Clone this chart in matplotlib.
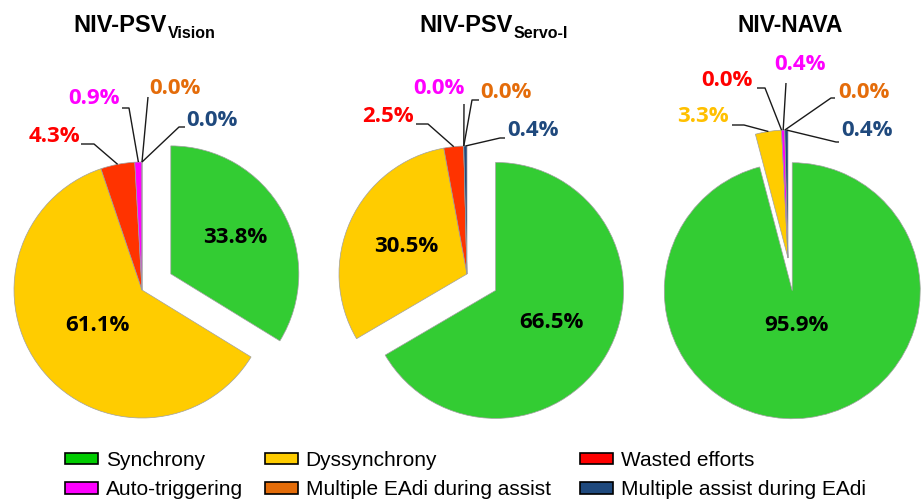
import numpy as np
import matplotlib
matplotlib.use("Agg")
import matplotlib.pyplot as plt
from matplotlib.patches import Patch

# data
categories = ["Synchrony", "Dyssynchrony", "Wasted efforts", "Auto-triggering",
              "Multiple EAdi during assist", "Multiple assist during EAdi"]
vision = [33.8, 61.1, 4.3, 0.9, 0.0, 0.0]
servo = [66.5, 30.5, 2.5, 0.0, 0.0, 0.4]
nava = [95.9, 3.3, 0.0, 0.4, 0.0, 0.4]
titles = [("NIV-PSV", "Vision"), ("NIV-PSV", "Servo-I"), ("NIV-NAVA", "")]

colors = ["#33CC33", "#FFCC00", "#FF3300", "#FF00FF", "#E46C0A", "#1F497D"]
legend_colors = ["#00CC00", "#FFCC00", "#FF0000", "#FF00FF", "#E36C09", "#1F497D"]
label_colors = ["black", "#FFC000", "#FF0000", "#FF00FF", "#E46C0A", "#1F497D"]

W, H = 922, 504
R = 128
EXPL = 33

fig = plt.figure(figsize=(W / 100, H / 100), dpi=100)
ax = fig.add_axes([0, 0, 1, 1])

# layout (screen pixels, y down)
centers = [(142, 290), (467, 274), (788, 258)]
inside = [{0: 0.58, 1: 0.45}, {0: 0.5, 1: 0.52}, {0: 0.27}]
# slice, text x, text y, attach x, elbow x, line y
outside = [
    [(2, 54, 137, 81, 94, 144), (3, 94, 98, 122, 129, 108),
     (4, 175, 88, 148, 148, 97), (5, 212, 120, 185, 179, 127)],
    [(2, 388, 116, 416, 428, 124), (3, 439, 89, 464, 464, 104),
     (4, 506, 92, 479, 472, 100), (5, 533, 130, 505, 500, 138)],
    [(1, 703, 117, 732, 744, 125), (2, 727, 81, 757, 765, 88),
     (3, 800, 65, 786, 786, 83), (4, 864, 92, 835, 831, 98),
     (5, 867, 130, 839, 836, 142)],
]
title_x = [167, 513, 790]

lab_font = dict(family=["Open Sans", "DejaVu Sans"], fontweight="bold", fontsize=16)

for i, vals in enumerate([vision, servo, nava]):
    cx, cy = centers[i]
    wedges, _ = ax.pie(vals, colors=colors, startangle=90, counterclock=False,
                       radius=R, center=(cx, H - cy),
                       explode=[EXPL, 0, 0, 0, 0, 0],
                       wedgeprops=dict(edgecolor="#a0a0a0", linewidth=0.5))

    for k, d in inside[i].items():
        w = wedges[k]
        a = np.deg2rad((w.theta1 + w.theta2) / 2)
        ax.text(w.center[0] + d * R * np.cos(a), w.center[1] + d * R * np.sin(a),
                f"{vals[k]:.1f}%", ha="center", va="center", color="black", **lab_font)

    for k, tx, ty, atx, ex, ly in outside[i]:
        w = wedges[k]
        a = np.deg2rad((w.theta1 + w.theta2) / 2)
        px = w.center[0] + R * np.cos(a)
        py = w.center[1] + R * np.sin(a)
        ax.plot([px, ex, atx], [py, H - ly, H - ly], color="#1a1a1a", lw=1.0,
                solid_capstyle="butt")
        ax.text(tx, H - ty, f"{vals[k]:.1f}%", ha="center", va="center",
                color=label_colors[k], **lab_font)

    main, sub = titles[i]
    if sub:
        ax.text(title_x[i], H - 32, main, ha="right", va="baseline",
                family="Liberation Sans", fontweight="bold", fontsize=17)
        ax.text(title_x[i] + 1, H - 38, sub, ha="left", va="baseline",
                family="Liberation Sans", fontweight="bold", fontsize=11.5)
    else:
        ax.text(title_x[i], H - 32, main, ha="center", va="baseline",
                family="Liberation Sans", fontweight="bold", fontsize=16.5)

ax.set_xlim(0, W)
ax.set_ylim(0, H)
ax.axis("off")

# legend, one block per column
col_x = [65, 265, 580]
for c in range(3):
    idx = [c, c + 3]
    handles = [Patch(facecolor=legend_colors[j], edgecolor="black", linewidth=1.2)
               for j in idx]
    fig.legend(handles, [categories[j] for j in idx], loc="upper left",
               bbox_to_anchor=(col_x[c] / W, 1 - 451 / H), frameon=False,
               borderpad=0, borderaxespad=0, handlelength=1.6, handleheight=0.45,
               handletextpad=0.35, labelspacing=0.5,
               prop=dict(family="Liberation Sans", size=15))

fig.savefig("out.png", dpi=100)
